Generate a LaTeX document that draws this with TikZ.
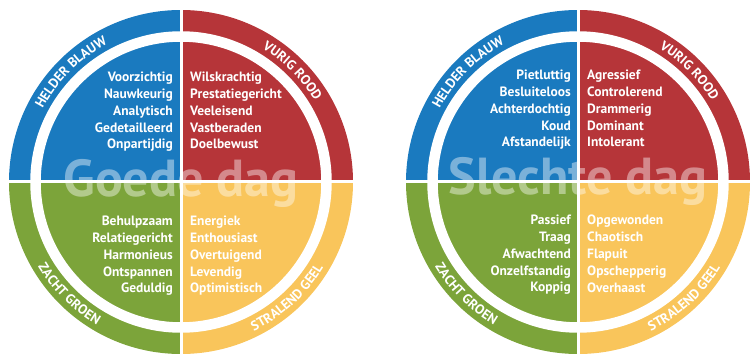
\documentclass[tikz,border=0pt]{standalone}
\usepackage{fontspec}
\setmainfont{PT Sans}
\usetikzlibrary{calc,decorations.text}
\definecolor{helderblauw}{HTML}{1A7ABF}
\definecolor{vurigrood}{HTML}{B63539}
\definecolor{zachtgroen}{HTML}{7CA43A}
\definecolor{stralendgeel}{HTML}{F9C55B}
\newcommand{\ringfont}{\fontsize{13.5}{13.5}\selectfont\bfseries}
\tikzset{
    x=1pt,
    y=1pt,
    daytext/.style = {
        text=white,
        text opacity=0.42,
        inner sep=0pt,
        anchor=base,
        font=\fontsize{52}{52}\selectfont\bfseries
    },
    traitsleft/.style = {
        text=white,
        inner sep=0pt,
        align=right,
        anchor=north east,
        font=\fontsize{13.5}{16.8}\selectfont\bfseries
    },
    traitsright/.style = {
        text=white,
        inner sep=0pt,
        align=left,
        anchor=north west,
        font=\fontsize{13.5}{16.8}\selectfont\bfseries
    },
    gap/.style = {
        draw=white,
        line width=3pt
    },
    ringlabel/.style = {
        decorate,
        decoration={text along path, text align=center, text color=white, text={|\ringfont|#1}}
    }
}
\begin{document}
\begin{tikzpicture}
    \useasboundingbox (0,0) rectangle (755,356);

    % goede dag
    \coordinate (good) at (181,174);
    \fill[helderblauw] (good) -- ++(180:172) arc[start angle=180, end angle=90, radius=172] -- cycle;
    \fill[vurigrood] (good) -- ++(90:172) arc[start angle=90, end angle=0, radius=172] -- cycle;
    \fill[stralendgeel] (good) -- ++(0:172) arc[start angle=360, end angle=270, radius=172] -- cycle;
    \fill[zachtgroen] (good) -- ++(270:172) arc[start angle=270, end angle=180, radius=172] -- cycle;
    \draw[white, line width=10.5pt] (good) circle[radius=145.5];
    \node[daytext] (good_title) at ($(good)+(0,-15)$) {Goede dag};
    \draw[gap] (good) ++(0,175) coordinate (good_top) -- ++(0,-350) coordinate (good_bottom);
    \draw[gap] (good) ++(-175,0) coordinate (good_left) -- ++(350,0) coordinate (good_right);

    \node[traitsleft] (good_blauw) at ($(good)+(-8,110)$) {Voorzichtig\\Nauwkeurig\\Analytisch\\Gedetailleerd\\Onpartijdig};
    \node[traitsright] (good_rood) at ($(good)+(9,110)$) {Wilskrachtig\\Prestatiegericht\\Veeleisend\\Vastberaden\\Doelbewust};
    \node[traitsleft] (good_groen) at ($(good)+(-8,-34)$) {Behulpzaam\\Relatiegericht\\Harmonieus\\Ontspannen\\Geduldig};
    \node[traitsright] (good_geel) at ($(good)+(9,-34)$) {Energiek\\Enthousiast\\Overtuigend\\Levendig\\Optimistisch};

    \path[ringlabel={HELDER BLAUW}] (good) ++(160:156.5) arc[start angle=160, end angle=110, radius=156.5];
    \path[ringlabel={VURIG ROOD}] (good) ++(70:156.5) arc[start angle=70, end angle=20, radius=156.5];
    \path[ringlabel={ZACHT GROEN}] (good) ++(198:166) arc[start angle=198, end angle=252, radius=166];
    \path[ringlabel={STRALEND GEEL}] (good) ++(282:166) arc[start angle=282, end angle=343, radius=166];

    % slechte dag
    \coordinate (bad) at (578,174);
    \fill[helderblauw] (bad) -- ++(180:172) arc[start angle=180, end angle=90, radius=172] -- cycle;
    \fill[vurigrood] (bad) -- ++(90:172) arc[start angle=90, end angle=0, radius=172] -- cycle;
    \fill[stralendgeel] (bad) -- ++(0:172) arc[start angle=360, end angle=270, radius=172] -- cycle;
    \fill[zachtgroen] (bad) -- ++(270:172) arc[start angle=270, end angle=180, radius=172] -- cycle;
    \draw[white, line width=10.5pt] (bad) circle[radius=145.5];
    \node[daytext] (bad_title) at ($(bad)+(0,-13)$) {Slechte dag};
    \draw[gap] (bad) ++(0,175) coordinate (bad_top) -- ++(0,-350) coordinate (bad_bottom);
    \draw[gap] (bad) ++(-175,0) coordinate (bad_left) -- ++(350,0) coordinate (bad_right);

    \node[traitsleft] (bad_blauw) at ($(bad)+(-7,112)$) {Pietluttig\\Besluiteloos\\Achterdochtig\\Koud\\Afstandelijk};
    \node[traitsright] (bad_rood) at ($(bad)+(9,112)$) {Agressief\\Controlerend\\Drammerig\\Dominant\\Intolerant};
    \node[traitsleft] (bad_groen) at ($(bad)+(-7,-33)$) {Passief\\Traag\\Afwachtend\\Onzelfstandig\\Koppig};
    \node[traitsright] (bad_geel) at ($(bad)+(9,-33)$) {Opgewonden\\Chaotisch\\Flapuit\\Opschepperig\\Overhaast};

    \path[ringlabel={HELDER BLAUW}] (bad) ++(160:156.5) arc[start angle=160, end angle=110, radius=156.5];
    \path[ringlabel={VURIG ROOD}] (bad) ++(70:156.5) arc[start angle=70, end angle=20, radius=156.5];
    \path[ringlabel={ZACHT GROEN}] (bad) ++(198:166) arc[start angle=198, end angle=252, radius=166];
    \path[ringlabel={STRALEND GEEL}] (bad) ++(282:166) arc[start angle=282, end angle=343, radius=166];
\end{tikzpicture}
\end{document}
